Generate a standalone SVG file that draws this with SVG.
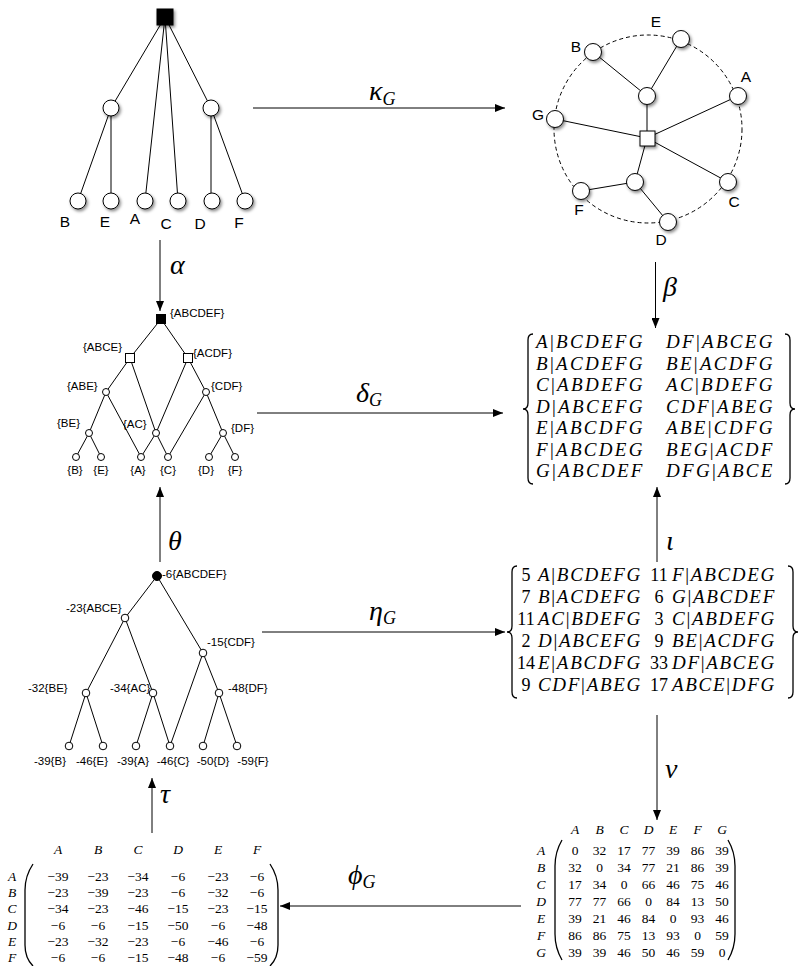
<svg xmlns="http://www.w3.org/2000/svg" width="799" height="966" viewBox="0 0 799 966">
<style>
.e{stroke:#000;stroke-width:1;fill:none}
.n{fill:#fff;stroke:#000;stroke-width:1}
.nf{fill:#000;stroke:#000;stroke-width:1}
.lb{font-family:"Liberation Sans",Arial,sans-serif;fill:#000}
.l15{font-size:15.5px}
.l12{font-size:11.5px}
.mi{font-family:"Liberation Serif","DejaVu Serif",serif;font-style:italic;fill:#000}
.up{font-style:normal}
.mt{font-size:19px;letter-spacing:2.3px}
.mt2{font-size:19px;letter-spacing:1.7px}
.mx{font-family:"Liberation Serif","DejaVu Serif",serif;font-size:13.5px;fill:#000;text-anchor:middle}
.gk{font-family:"Liberation Serif","DejaVu Serif",serif;font-style:italic;font-size:28px;fill:#000}
.sb{font-size:18px}
.br{stroke:#000;stroke-width:1.3;fill:none}
.ar{stroke:#000;stroke-width:1;fill:none;marker-end:url(#ah)}
.dash{stroke:#000;stroke-width:1;fill:none;stroke-dasharray:4 3}
</style>
<defs>
<marker id="ah" viewBox="0 0 10 8" refX="10" refY="4" markerWidth="10" markerHeight="8" markerUnits="userSpaceOnUse" orient="auto"><path d="M0,0 L10,4 L0,8 z" fill="#000"/></marker>
<filter id="sh" x="-60%" y="-60%" width="220%" height="220%"><feDropShadow dx="1.5" dy="2" stdDeviation="1.5" flood-color="#000" flood-opacity="0.45"/></filter>
</defs>

<!-- Connectors (arrows between panels) -->
<g id="connectors">
<line class="ar" x1="253" y1="108" x2="505" y2="108"/>
<line class="ar" x1="160" y1="240" x2="160" y2="311"/>
<line class="ar" x1="655.5" y1="262" x2="655.5" y2="328"/>
<line class="ar" x1="257" y1="413" x2="503" y2="413"/>
<line class="ar" x1="160" y1="562" x2="160" y2="487"/>
<line class="ar" x1="657" y1="562" x2="657" y2="487"/>
<line class="ar" x1="262" y1="632" x2="505" y2="632"/>
<line class="ar" x1="657" y1="715" x2="657" y2="820"/>
<line class="ar" x1="152" y1="833" x2="152" y2="778"/>
<line class="ar" x1="521" y1="906" x2="280" y2="906"/>
<text class="gk" x="369" y="100">κ<tspan class="sb" dy="5">G</tspan></text>
<text class="gk" x="170" y="274">α</text>
<text class="gk" x="663" y="296">β</text>
<text class="gk" x="356" y="402">δ<tspan class="sb" dy="4">G</tspan></text>
<text class="gk" x="168" y="550">θ</text>
<text class="gk" x="666" y="550">ι</text>
<text class="gk" x="369" y="620">η<tspan class="sb" dy="4">G</tspan></text>
<text class="gk" x="665" y="778">ν</text>
<text class="gk" x="160" y="803">τ</text>
<text class="gk" x="348" y="884">ϕ<tspan class="sb" dy="4">G</tspan></text>
</g>

<!-- Top-left tree -->
<g id="tree">
<g class="e">
<line x1="165" y1="17" x2="111" y2="108"/><line x1="165" y1="17" x2="145" y2="201"/>
<line x1="165" y1="17" x2="178" y2="201"/><line x1="165" y1="17" x2="211" y2="108"/>
<line x1="111" y1="108" x2="78" y2="201"/><line x1="111" y1="108" x2="111" y2="201"/>
<line x1="211" y1="108" x2="211" y2="201"/><line x1="211" y1="108" x2="245" y2="201"/>
</g>
<g filter="url(#sh)">
<rect id="t-root" class="nf" x="157" y="9" width="16" height="16"/>
<circle id="t-l" class="n" cx="111" cy="108" r="8"/>
<circle id="t-r" class="n" cx="211" cy="108" r="8"/>
<circle id="t-B" class="n" cx="78" cy="201" r="8"/>
<circle id="t-E" class="n" cx="111" cy="201" r="8"/>
<circle id="t-A" class="n" cx="145" cy="201" r="8"/>
<circle id="t-C" class="n" cx="178" cy="201" r="8"/>
<circle id="t-D" class="n" cx="212" cy="201" r="8"/>
<circle id="t-F" class="n" cx="245" cy="201" r="8"/>
</g>
<g class="lb l15" text-anchor="middle">
<text x="65" y="227">B</text><text x="105" y="227">E</text><text x="135" y="224">A</text>
<text x="166" y="229">C</text><text x="200" y="229">D</text><text x="239" y="228">F</text>
</g>
</g>

<!-- Top-right circular graph -->
<g id="circle-graph">
<circle class="dash" cx="648" cy="129" r="94"/>
<g class="e">
<line x1="593" y1="52" x2="647" y2="96"/><line x1="681" y1="39" x2="647" y2="96"/>
<line x1="647" y1="96" x2="647" y2="138"/><line x1="738" y1="96" x2="647" y2="138"/>
<line x1="555" y1="119" x2="647" y2="138"/><line x1="728" y1="182" x2="647" y2="138"/>
<line x1="647" y1="138" x2="635" y2="182"/><line x1="635" y1="182" x2="581" y2="191"/>
<line x1="635" y1="182" x2="668" y2="222"/>
</g>
<g filter="url(#sh)">
<circle class="n" cx="593" cy="52" r="8.5"/><circle class="n" cx="681" cy="39" r="8.5"/>
<circle class="n" cx="738" cy="96" r="8.5"/><circle class="n" cx="555" cy="119" r="8.5"/>
<circle class="n" cx="728" cy="182" r="8.5"/><circle class="n" cx="668" cy="222" r="8.5"/>
<circle class="n" cx="581" cy="191" r="8.5"/><circle class="n" cx="647" cy="96" r="8.5"/>
<circle class="n" cx="635" cy="182" r="8.5"/>
<rect class="n" x="640" y="131" width="15" height="15"/>
</g>
<g class="lb l15" text-anchor="middle">
<text x="656" y="27">E</text><text x="576" y="52">B</text><text x="746" y="82">A</text>
<text x="538" y="120">G</text><text x="734" y="207">C</text><text x="661" y="245">D</text>
<text x="579" y="215">F</text>
</g>
</g>

<!-- Middle-left lattice -->
<g id="lattice1">
<g class="e">
<line x1="161" y1="319" x2="130" y2="358"/><line x1="161" y1="319" x2="188" y2="358"/>
<line x1="130" y1="358" x2="106" y2="392"/><line x1="130" y1="358" x2="156" y2="433"/>
<line x1="188" y1="358" x2="156" y2="433"/><line x1="188" y1="358" x2="206" y2="392"/>
<line x1="106" y1="392" x2="89" y2="433"/><line x1="106" y1="392" x2="141" y2="457"/>
<line x1="206" y1="392" x2="168" y2="457"/><line x1="206" y1="392" x2="223" y2="433"/>
<line x1="89" y1="433" x2="76" y2="457"/><line x1="89" y1="433" x2="101" y2="457"/>
<line x1="156" y1="433" x2="141" y2="457"/><line x1="156" y1="433" x2="168" y2="457"/>
<line x1="223" y1="433" x2="209" y2="457"/><line x1="223" y1="433" x2="235" y2="457"/>
</g>
<rect class="nf" x="156.5" y="314.5" width="9" height="9"/>
<rect class="n" x="125.5" y="353.5" width="9" height="9"/>
<rect class="n" x="183.5" y="353.5" width="9" height="9"/>
<circle class="n" cx="106" cy="392" r="3.5"/><circle class="n" cx="206" cy="392" r="3.5"/>
<circle class="n" cx="89" cy="433" r="3.5"/><circle class="n" cx="156" cy="433" r="3.5"/>
<circle class="n" cx="223" cy="433" r="3.5"/>
<circle class="n" cx="76" cy="457" r="3.5"/><circle class="n" cx="101" cy="457" r="3.5"/>
<circle class="n" cx="141" cy="457" r="3.5"/><circle class="n" cx="168" cy="457" r="3.5"/>
<circle class="n" cx="209" cy="457" r="3.5"/><circle class="n" cx="235" cy="457" r="3.5"/>
<g class="lb l12">
<text x="170" y="317">{ABCDEF}</text><text x="83" y="351">{ABCE}</text>
<text x="193" y="357">{ACDF}</text><text x="67" y="390">{ABE}</text>
<text x="211" y="390">{CDF}</text><text x="57" y="427">{BE}</text>
<text x="123" y="428">{AC}</text><text x="231" y="432">{DF}</text>
</g>
<g class="lb l12" text-anchor="middle">
<text x="75" y="474">{B}</text><text x="101" y="474">{E}</text><text x="138" y="474">{A}</text>
<text x="168" y="474">{C}</text><text x="206" y="474">{D}</text><text x="235" y="474">{F}</text>
</g>
</g>

<!-- Bottom-left lattice -->
<g id="lattice2">
<g class="e">
<line x1="157" y1="576" x2="125" y2="618"/><line x1="157" y1="576" x2="203" y2="653"/>
<line x1="125" y1="618" x2="86" y2="693"/><line x1="125" y1="618" x2="153" y2="693"/>
<line x1="203" y1="653" x2="170" y2="746"/><line x1="203" y1="653" x2="219" y2="693"/>
<line x1="86" y1="693" x2="69" y2="746"/><line x1="86" y1="693" x2="103" y2="746"/>
<line x1="153" y1="693" x2="136" y2="746"/><line x1="153" y1="693" x2="170" y2="746"/>
<line x1="219" y1="693" x2="203" y2="746"/><line x1="219" y1="693" x2="237" y2="746"/>
</g>
<circle class="nf" cx="157" cy="576" r="4.5"/>
<circle class="n" cx="125" cy="618" r="3.8"/><circle class="n" cx="203" cy="653" r="3.8"/>
<circle class="n" cx="86" cy="693" r="3.8"/><circle class="n" cx="153" cy="693" r="3.8"/>
<circle class="n" cx="219" cy="693" r="3.8"/>
<circle class="n" cx="69" cy="746" r="3.8"/><circle class="n" cx="103" cy="746" r="3.8"/>
<circle class="n" cx="136" cy="746" r="3.8"/><circle class="n" cx="170" cy="746" r="3.8"/>
<circle class="n" cx="203" cy="746" r="3.8"/><circle class="n" cx="237" cy="746" r="3.8"/>
<g class="lb l12">
<text x="162" y="578">-6{ABCDEF}</text><text x="66" y="612">-23{ABCE}</text>
<text x="207" y="646">-15{CDF}</text><text x="28" y="692">-32{BE}</text>
<text x="110" y="692">-34{AC}</text><text x="228" y="692">-48{DF}</text>
</g>
<g class="lb l12" text-anchor="middle">
<text x="50" y="765">-39{B}</text><text x="92" y="765">-46{E}</text><text x="133" y="765">-39{A}</text>
<text x="173" y="765">-46{C}</text><text x="213" y="765">-50{D}</text><text x="253" y="765">-59{F}</text>
</g>
</g>

<!-- Set of splits -->
<g id="splits">
<path class="br" d="M533,334 Q528,334 528,340 L528,403 Q528,409 523,409 Q528,409 528,415 L528,478 Q528,484 533,484"/>
<path class="br" d="M785,334 Q790,334 790,340 L790,403 Q790,409 795,409 Q790,409 790,415 L790,478 Q790,484 785,484"/>
<g class="mi mt">
<text x="536" y="348">A<tspan class="up">|</tspan>BCDEFG</text>
<text x="536" y="369.5">B<tspan class="up">|</tspan>ACDEFG</text>
<text x="536" y="391">C<tspan class="up">|</tspan>ABDEFG</text>
<text x="536" y="412.5">D<tspan class="up">|</tspan>ABCEFG</text>
<text x="536" y="434">E<tspan class="up">|</tspan>ABCDFG</text>
<text x="536" y="455.5">F<tspan class="up">|</tspan>ABCDEG</text>
<text x="536" y="477">G<tspan class="up">|</tspan>ABCDEF</text>
<text x="666" y="348">DF<tspan class="up">|</tspan>ABCEG</text>
<text x="666" y="369.5">BE<tspan class="up">|</tspan>ACDFG</text>
<text x="666" y="391">AC<tspan class="up">|</tspan>BDEFG</text>
<text x="666" y="412.5">CDF<tspan class="up">|</tspan>ABEG</text>
<text x="666" y="434">ABE<tspan class="up">|</tspan>CDFG</text>
<text x="666" y="455.5">BEG<tspan class="up">|</tspan>ACDF</text>
<text x="666" y="477">DFG<tspan class="up">|</tspan>ABCE</text>
</g>
</g>

<!-- Weighted splits -->
<g id="weighted-splits">
<path class="br" d="M517,566 Q512,566 512,572 L512,626 Q512,632 507,632 Q512,632 512,638 L512,692 Q512,698 517,698"/>
<path class="br" d="M788,566 Q793,566 793,572 L793,626 Q793,632 798,632 Q793,632 793,638 L793,692 Q793,698 788,698"/>
<g class="mx" style="font-size:18px">
<text x="526" y="581">5</text><text x="526" y="603">7</text><text x="526" y="625">11</text>
<text x="526" y="647">2</text><text x="526" y="669">14</text><text x="526" y="691">9</text>
<text x="659" y="581">11</text><text x="659" y="603">6</text><text x="659" y="625">3</text>
<text x="659" y="647">9</text><text x="659" y="669">33</text><text x="659" y="691">17</text>
</g>
<g class="mi mt2">
<text x="538" y="581">A<tspan class="up">|</tspan>BCDEFG</text>
<text x="538" y="603">B<tspan class="up">|</tspan>ACDEFG</text>
<text x="538" y="625">AC<tspan class="up">|</tspan>BDEFG</text>
<text x="538" y="647">D<tspan class="up">|</tspan>ABCEFG</text>
<text x="538" y="669">E<tspan class="up">|</tspan>ABCDFG</text>
<text x="538" y="691">CDF<tspan class="up">|</tspan>ABEG</text>
<text x="672" y="581">F<tspan class="up">|</tspan>ABCDEG</text>
<text x="672" y="603">G<tspan class="up">|</tspan>ABCDEF</text>
<text x="672" y="625">C<tspan class="up">|</tspan>ABDEFG</text>
<text x="672" y="647">BE<tspan class="up">|</tspan>ACDFG</text>
<text x="672" y="669">DF<tspan class="up">|</tspan>ABCEG</text>
<text x="672" y="691">ABCE<tspan class="up">|</tspan>DFG</text>
</g>
</g>

<!-- Distance matrix (bottom right) -->
<g id="distance-matrix">
<path class="br" d="M562,840 Q555,852 555,866 L555,934 Q555,948 562,960"/>
<path class="br" d="M728,840 Q735,852 735,866 L735,934 Q735,948 728,960"/>
<g class="mx" style="font-style:italic">
<text x="575" y="834">A</text><text x="599.5" y="834">B</text><text x="624" y="834">C</text><text x="648.5" y="834">D</text><text x="673" y="834">E</text><text x="697.5" y="834">F</text><text x="722" y="834">G</text>
<text x="541" y="855">A</text><text x="541" y="872">B</text><text x="541" y="889">C</text><text x="541" y="906">D</text><text x="541" y="923">E</text><text x="541" y="940">F</text><text x="541" y="957">G</text>
</g>
<g class="mx">
<text y="855"><tspan x="575">0</tspan><tspan x="599.5">32</tspan><tspan x="624">17</tspan><tspan x="648.5">77</tspan><tspan x="673">39</tspan><tspan x="697.5">86</tspan><tspan x="722">39</tspan></text>
<text y="872"><tspan x="575">32</tspan><tspan x="599.5">0</tspan><tspan x="624">34</tspan><tspan x="648.5">77</tspan><tspan x="673">21</tspan><tspan x="697.5">86</tspan><tspan x="722">39</tspan></text>
<text y="889"><tspan x="575">17</tspan><tspan x="599.5">34</tspan><tspan x="624">0</tspan><tspan x="648.5">66</tspan><tspan x="673">46</tspan><tspan x="697.5">75</tspan><tspan x="722">46</tspan></text>
<text y="906"><tspan x="575">77</tspan><tspan x="599.5">77</tspan><tspan x="624">66</tspan><tspan x="648.5">0</tspan><tspan x="673">84</tspan><tspan x="697.5">13</tspan><tspan x="722">50</tspan></text>
<text y="923"><tspan x="575">39</tspan><tspan x="599.5">21</tspan><tspan x="624">46</tspan><tspan x="648.5">84</tspan><tspan x="673">0</tspan><tspan x="697.5">93</tspan><tspan x="722">46</tspan></text>
<text y="940"><tspan x="575">86</tspan><tspan x="599.5">86</tspan><tspan x="624">75</tspan><tspan x="648.5">13</tspan><tspan x="673">93</tspan><tspan x="697.5">0</tspan><tspan x="722">59</tspan></text>
<text y="957"><tspan x="575">39</tspan><tspan x="599.5">39</tspan><tspan x="624">46</tspan><tspan x="648.5">50</tspan><tspan x="673">46</tspan><tspan x="697.5">59</tspan><tspan x="722">0</tspan></text>
</g>
</g>

<!-- Similarity matrix (bottom left) -->
<g id="similarity-matrix">
<path class="br" d="M33,864 Q25,876 25,890 L25,945 Q25,958 33,966"/>
<path class="br" d="M270,864 Q278,876 278,890 L278,945 Q278,958 270,966"/>
<g class="mx" style="font-style:italic">
<text x="58" y="854">A</text><text x="98" y="854">B</text><text x="138" y="854">C</text><text x="178" y="854">D</text><text x="218" y="854">E</text><text x="257" y="854">F</text>
<text x="12" y="881">A</text><text x="12" y="897">B</text><text x="12" y="913">C</text><text x="12" y="930">D</text><text x="12" y="946">E</text><text x="12" y="962">F</text>
</g>
<g class="mx">
<text y="881"><tspan x="58">−39</tspan><tspan x="98">−23</tspan><tspan x="138">−34</tspan><tspan x="178">−6</tspan><tspan x="218">−23</tspan><tspan x="257">−6</tspan></text>
<text y="897"><tspan x="58">−23</tspan><tspan x="98">−39</tspan><tspan x="138">−23</tspan><tspan x="178">−6</tspan><tspan x="218">−32</tspan><tspan x="257">−6</tspan></text>
<text y="913"><tspan x="58">−34</tspan><tspan x="98">−23</tspan><tspan x="138">−46</tspan><tspan x="178">−15</tspan><tspan x="218">−23</tspan><tspan x="257">−15</tspan></text>
<text y="930"><tspan x="58">−6</tspan><tspan x="98">−6</tspan><tspan x="138">−15</tspan><tspan x="178">−50</tspan><tspan x="218">−6</tspan><tspan x="257">−48</tspan></text>
<text y="946"><tspan x="58">−23</tspan><tspan x="98">−32</tspan><tspan x="138">−23</tspan><tspan x="178">−6</tspan><tspan x="218">−46</tspan><tspan x="257">−6</tspan></text>
<text y="962"><tspan x="58">−6</tspan><tspan x="98">−6</tspan><tspan x="138">−15</tspan><tspan x="178">−48</tspan><tspan x="218">−6</tspan><tspan x="257">−59</tspan></text>
</g>
</g>
</svg>
